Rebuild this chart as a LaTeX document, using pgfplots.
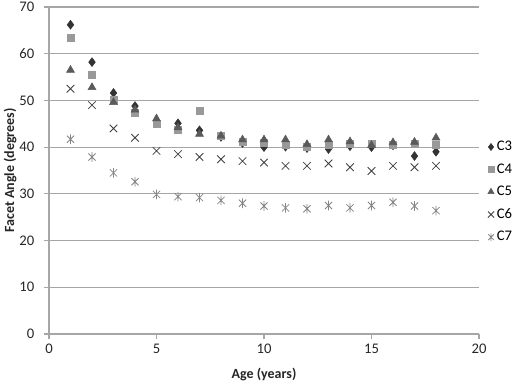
\documentclass[border=0pt]{standalone}
\usepackage{fontspec}
\setmainfont{Carlito}
\usepackage{pgfplots}
\pgfplotsset{compat=1.18}
\definecolor{axgray}{HTML}{A6A6A6}
\definecolor{gridgray}{HTML}{A6A6A6}
\definecolor{cthree}{HTML}{333333}
\definecolor{cfour}{HTML}{999999}
\definecolor{cfive}{HTML}{5A5A5A}
\definecolor{csix}{HTML}{404040}
\definecolor{cseven}{HTML}{858585}
\pgfdeclareplotmark{xstar}{%
  \pgfpathmoveto{\pgfqpoint{0pt}{-\pgfplotmarksize}}%
  \pgfpathlineto{\pgfqpoint{0pt}{\pgfplotmarksize}}%
  \pgfpathmoveto{\pgfqpoint{-.75\pgfplotmarksize}{-.75\pgfplotmarksize}}%
  \pgfpathlineto{\pgfqpoint{.75\pgfplotmarksize}{.75\pgfplotmarksize}}%
  \pgfpathmoveto{\pgfqpoint{-.75\pgfplotmarksize}{.75\pgfplotmarksize}}%
  \pgfpathlineto{\pgfqpoint{.75\pgfplotmarksize}{-.75\pgfplotmarksize}}%
  \pgfusepathqstroke}
\begin{document}
\begin{tikzpicture}
\begin{axis}[
  scale only axis, width=322.5pt, height=245.25pt,
  xmin=0, xmax=20, ymin=0, ymax=70,
  xtick={0,5,...,20}, ytick={0,10,...,70},
  axis lines*=left,
  axis line style={draw=axgray, line width=0.8pt},
  ymajorgrids, grid style={draw=gridgray, line width=0.8pt},
  tick align=outside, major tick length=4pt,
  tick style={draw=axgray, line width=0.8pt},
  ticklabel style={font=\fontsize{11}{13}\selectfont, text=black!85},
  yticklabel style={xshift=-3.5pt},
  /pgf/number format/assume math mode=true,
  xlabel={\textbf{Age (years)}},
  ylabel={\textbf{Facet Angle (degrees)}},
  every axis x label/.style={at={(axis description cs:0.5,-0.1223)}, anchor=center, font=\fontsize{10.5}{12}\selectfont, text=black!85},
  every axis y label/.style={at={(axis description cs:-0.0907,0.5)}, rotate=90, anchor=center, font=\fontsize{10.5}{12}\selectfont, text=black!85},
  legend style={at={(1.02,0.434)}, anchor=west, draw=none, fill=none,
    font=\fontsize{11}{13}\selectfont, row sep=4.2pt, inner sep=0pt},
  legend cell align=left,
  legend image code/.code={\draw[#1, /tikz/every mark/.append style={scale=0.8}] plot coordinates {(0.14cm,0cm)};},
  clip=false,
]
\addplot[only marks, mark=diamond*, mark size=3.3pt, color=cthree] coordinates {
(1,66.2)(2,58.2)(3,51.6)(4,48.8)(5,45.5)(6,45.1)(7,43.6)(8,42.2)(9,40.9)
(10,40.0)(11,40.1)(12,39.8)(13,39.6)(14,40.2)(15,40.0)(16,40.4)(17,38.1)(18,39.0)};
\addlegendentry{C3}
\addplot[only marks, mark=square*, mark size=2.6pt, color=cfour] coordinates {
(1,63.4)(2,55.4)(3,50.1)(4,47.4)(5,45.0)(6,43.8)(7,47.8)(8,42.5)(9,41.2)
(10,40.9)(11,40.6)(12,40.0)(13,40.6)(14,40.7)(15,40.8)(16,40.6)(17,40.8)(18,40.6)};
\addlegendentry{C4}
\addplot[only marks, mark=triangle*, mark size=3.4pt, color=cfive] coordinates {
(1,56.5)(2,52.8)(3,49.6)(4,48.0)(5,46.1)(6,44.2)(7,42.8)(8,42.4)(9,41.6)
(10,41.6)(11,41.6)(12,40.6)(13,41.6)(14,41.2)(15,40.4)(16,41.0)(17,41.1)(18,42.0)};
\addlegendentry{C5}
\addplot[only marks, mark=x, mark size=4pt, color=csix, mark options={line width=0.6pt}] coordinates {
(1,52.5)(2,49.0)(3,44.0)(4,42.0)(5,39.2)(6,38.5)(7,37.9)(8,37.4)(9,37.0)
(10,36.7)(11,36.0)(12,36.0)(13,36.5)(14,35.7)(15,34.9)(16,36.0)(17,35.7)(18,36.0)};
\addlegendentry{C6}
\addplot[only marks, mark=xstar, mark size=3.6pt, color=cseven, mark options={line width=0.6pt}] coordinates {
(1,41.7)(2,37.9)(3,34.5)(4,32.6)(5,29.9)(6,29.4)(7,29.2)(8,28.6)(9,28.0)
(10,27.4)(11,27.0)(12,26.8)(13,27.5)(14,27.0)(15,27.5)(16,28.2)(17,27.4)(18,26.4)};
\addlegendentry{C7}
\end{axis}
\pgfresetboundingbox
\path (-36.75pt,-36pt) rectangle (353.25pt,250.5pt);
\end{tikzpicture}
\end{document}
